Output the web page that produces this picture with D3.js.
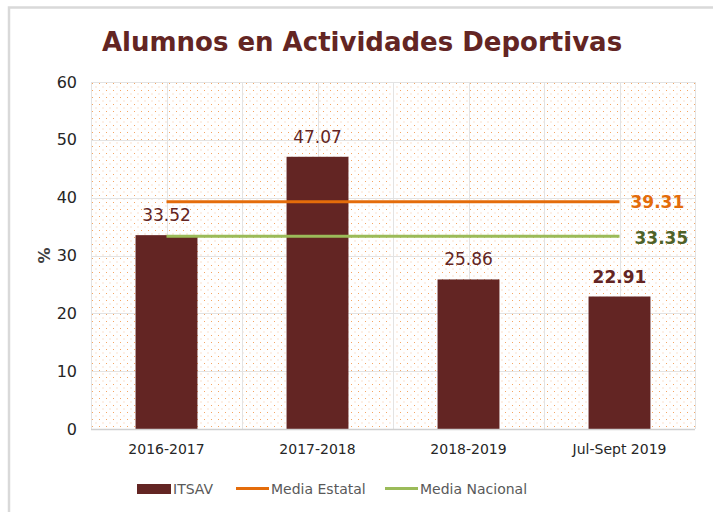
<!DOCTYPE html>
<html>
<head>
<meta charset="utf-8">
<script src="https://cdn.jsdelivr.net/npm/d3@7"></script>
<style>
  html, body { margin: 0; padding: 0; background: #fff; }
  svg { display: block; }
</style>
</head>
<body>
<svg id="chart" width="713" height="512"></svg>
<script>
// Periods and values
const categories = ["2016-2017", "2017-2018", "2018-2019", "Jul-Sept 2019"];
const itsav = [33.52, 47.07, 25.86, 22.91];
const mediaEstatal = [39.31, 39.31, 39.31, 39.31];
const mediaNacional = [33.35, 33.35, 33.35, 33.35];
const yTicks = [0, 10, 20, 30, 40, 50, 60];
const legendLabels = ["ITSAV", "Media Estatal", "Media Nacional"];

const colors = { bar: "#632523", estatal: "#E46C0A", nacional: "#9BBB59", nacionalText: "#4F6228" };
const font = "'DejaVu Sans', Verdana, sans-serif";

const svg = d3.select("#chart");
const plot = { left: 91, right: 695, top: 82, bottom: 429 };

// Outer chart frame
svg.append("rect").attr("x", 9).attr("y", 7.5).attr("width", 720).attr("height", 520)
  .attr("fill", "#fff").attr("stroke", "#d9d9d9").attr("stroke-width", 2.5);

// Dotted fill pattern for the plot area
const defs = svg.append("defs");
const pat = defs.append("pattern").attr("id", "dots").attr("patternUnits", "userSpaceOnUse")
  .attr("width", 7).attr("height", 7).attr("x", plot.left).attr("y", plot.top);
pat.append("rect").attr("x", 1).attr("y", 1).attr("width", 1).attr("height", 1).attr("fill", "#f5a664");
pat.append("rect").attr("x", 4.5).attr("y", 4.5).attr("width", 1).attr("height", 1).attr("fill", "#f8c49a");

const x = d3.scaleBand().domain(categories).range([plot.left, plot.right]).paddingInner(0).paddingOuter(0);
const y = d3.scaleLinear().domain([0, 60]).range([plot.bottom, plot.top]);
const barW = x.bandwidth() * 0.41;

svg.append("rect").attr("x", plot.left).attr("y", plot.top)
  .attr("width", plot.right - plot.left).attr("height", plot.bottom - plot.top)
  .attr("fill", "url(#dots)");

// Gridlines: horizontal at each tick, vertical at category centers and boundaries
const grid = svg.append("g").attr("stroke", "#e3e3e3").attr("stroke-width", 1);
yTicks.forEach(t => {
  grid.append("line").attr("x1", plot.left).attr("x2", plot.right)
    .attr("y1", Math.round(y(t)) + 0.5).attr("y2", Math.round(y(t)) + 0.5);
});
const vx = [];
categories.forEach(c => { vx.push(x(c)); vx.push(x(c) + x.bandwidth() / 2); });
vx.push(plot.right);
vx.forEach(v => {
  grid.append("line").attr("x1", Math.round(v) + 0.5).attr("x2", Math.round(v) + 0.5)
    .attr("y1", plot.top).attr("y2", plot.bottom);
});

// Bars
svg.append("g").selectAll("rect").data(itsav).join("rect")
  .attr("x", (d, i) => x(categories[i]) + x.bandwidth() / 2 - barW / 2)
  .attr("y", d => y(d))
  .attr("width", barW)
  .attr("height", d => y(0) - y(d))
  .attr("fill", colors.bar);

// Axis baseline
svg.append("line").attr("x1", plot.left).attr("x2", plot.right)
  .attr("y1", plot.bottom + 0.5).attr("y2", plot.bottom + 0.5)
  .attr("stroke", "#d0d0d0").attr("stroke-width", 1.5);

// Average lines
const cx = c => x(c) + x.bandwidth() / 2;
const line = d3.line().x((d, i) => cx(categories[i])).y(d => y(d));
svg.append("path").datum(mediaEstatal).attr("d", line)
  .attr("fill", "none").attr("stroke", colors.estatal).attr("stroke-width", 3);
svg.append("path").datum(mediaNacional).attr("d", line)
  .attr("fill", "none").attr("stroke", colors.nacional).attr("stroke-width", 3);

// Bar value labels
svg.append("g").selectAll("text").data(itsav).join("text")
  .attr("x", (d, i) => cx(categories[i]))
  .attr("y", d => y(d) - 14)
  .attr("text-anchor", "middle")
  .attr("font-family", font)
  .attr("font-size", 17)
  .attr("font-weight", (d, i) => i === 3 ? "bold" : "normal")
  .attr("fill", colors.bar)
  .text(d => d.toFixed(2));

// End labels for averages
const lastX = cx(categories[categories.length - 1]);
svg.append("text").attr("x", lastX + 11).attr("y", y(mediaEstatal[3]) + 6)
  .attr("font-family", font).attr("font-size", 17).attr("font-weight", "bold")
  .attr("fill", colors.estatal).text(mediaEstatal[3].toFixed(2));
svg.append("text").attr("x", lastX + 15).attr("y", y(mediaNacional[3]) + 8)
  .attr("font-family", font).attr("font-size", 17).attr("font-weight", "bold")
  .attr("fill", colors.nacionalText).text(mediaNacional[3].toFixed(2));

// Y axis
const yAxis = d3.axisLeft(y).tickValues(yTicks).tickSize(0).tickPadding(0);
const yg = svg.append("g").attr("transform", `translate(${plot.left - 14},0)`).call(yAxis);
yg.select(".domain").remove();
yg.selectAll("text").attr("font-family", font).attr("font-size", 16).attr("fill", "#262626");

svg.append("text").attr("transform", `translate(50,${(plot.top + plot.bottom) / 2}) rotate(-90)`)
  .attr("text-anchor", "middle").attr("font-family", font).attr("font-size", 16)
  .attr("font-weight", "bold").attr("fill", "#404040").text("%");

// X axis
const xAxis = d3.axisBottom(x).tickSize(0).tickPadding(0);
const xg = svg.append("g").attr("transform", `translate(0,${plot.bottom + 15})`).call(xAxis);
xg.select(".domain").remove();
xg.selectAll("text").attr("font-family", font).attr("font-size", 14).attr("fill", "#262626").attr("dy", "0.71em");

// Title
svg.append("text").attr("x", 362).attr("y", 51).attr("text-anchor", "middle")
  .attr("font-family", font).attr("font-size", 26).attr("font-weight", "bold")
  .attr("fill", colors.bar).text("Alumnos en Actividades Deportivas");

// Legend
const lg = svg.append("g").attr("font-family", font).attr("font-size", 14).attr("fill", "#595959");
lg.append("rect").attr("x", 137).attr("y", 484).attr("width", 34).attr("height", 10).attr("fill", colors.bar);
lg.append("text").attr("x", 173).attr("y", 494).text(legendLabels[0]);
lg.append("line").attr("x1", 236).attr("x2", 269).attr("y1", 488.5).attr("y2", 488.5)
  .attr("stroke", colors.estatal).attr("stroke-width", 3);
lg.append("text").attr("x", 271).attr("y", 494).text(legendLabels[1]);
lg.append("line").attr("x1", 385).attr("x2", 418).attr("y1", 488.5).attr("y2", 488.5)
  .attr("stroke", colors.nacional).attr("stroke-width", 3);
lg.append("text").attr("x", 420).attr("y", 494).text(legendLabels[2]);
</script>
</body>
</html>
